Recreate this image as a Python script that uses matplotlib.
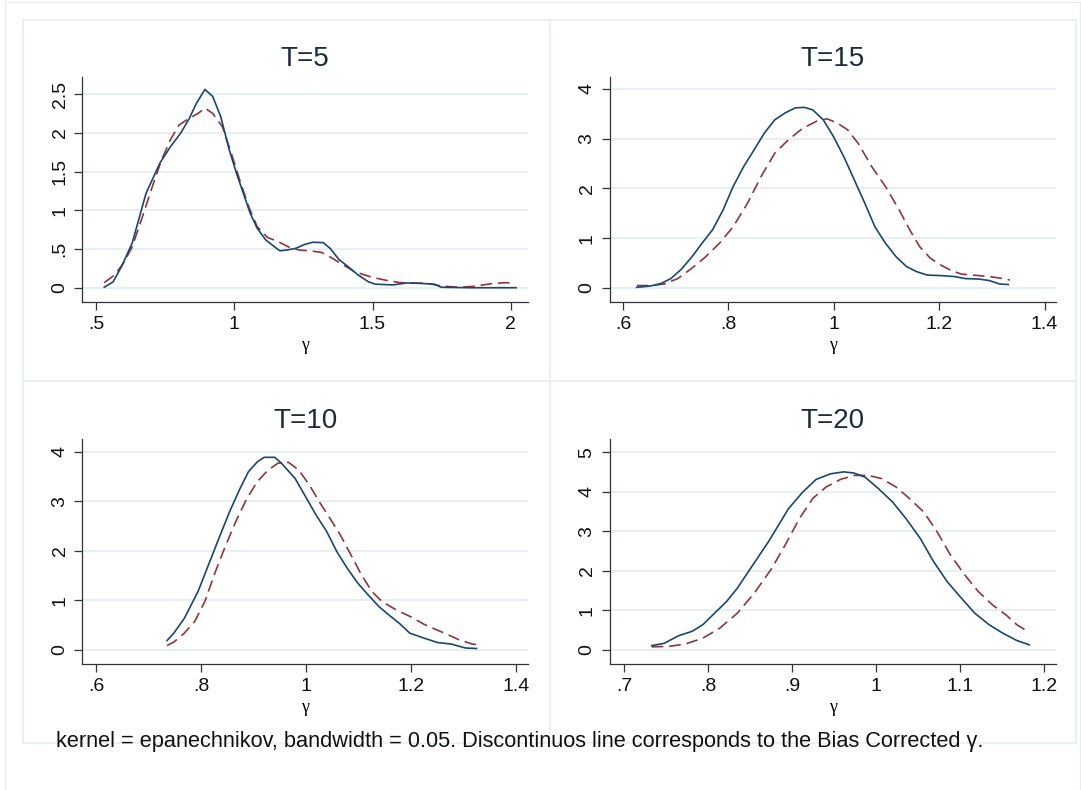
# Kernel densities of gamma estimates, original vs bias corrected, by T

import matplotlib.pyplot as plt
from matplotlib.lines import Line2D

plt.rcParams['font.family'] = ['Liberation Sans', 'DejaVu Sans']

NAVY = '#1a476f'
MAROON = '#90353b'
GRID = '#e6eef1'
FRAME = '#e8eef0'

# T=5
t5_x = [0.53, 0.562, 0.593, 0.631, 0.681, 0.731, 0.769, 0.807, 0.838, 0.863, 0.894, 0.922,
        0.951, 0.982, 1.008, 1.033, 1.058, 1.083, 1.114, 1.146, 1.165, 1.19, 1.221, 1.253,
        1.284, 1.322, 1.347, 1.378, 1.41, 1.447, 1.485, 1.51, 1.573, 1.623, 1.673, 1.723,
        1.749, 1.85, 2.019]
t5_y = [0.01, 0.08, 0.28, 0.58, 1.22, 1.61, 1.82, 2.0, 2.19, 2.38, 2.56, 2.47,
        2.21, 1.78, 1.48, 1.22, 0.96, 0.77, 0.62, 0.53, 0.48, 0.49, 0.51, 0.56,
        0.59, 0.585, 0.51, 0.37, 0.28, 0.17, 0.08, 0.05, 0.04, 0.065, 0.06, 0.05,
        0.01, 0.004, 0.004]
t5_bc_x = [0.53, 0.568, 0.599, 0.631, 0.668, 0.706, 0.737, 0.769, 0.8, 0.838, 0.869, 0.894,
           0.922, 0.957, 0.989, 1.02, 1.052, 1.083, 1.121, 1.158, 1.196, 1.234, 1.272, 1.315,
           1.347, 1.384, 1.435, 1.497, 1.548, 1.598, 1.698, 1.749, 1.81, 1.862, 1.937, 1.987,
           2.006]
t5_bc_y = [0.07, 0.17, 0.32, 0.53, 0.92, 1.33, 1.65, 1.91, 2.1, 2.19, 2.25, 2.32,
           2.25, 2.08, 1.74, 1.39, 1.05, 0.79, 0.65, 0.6, 0.53, 0.49, 0.48, 0.46,
           0.40, 0.32, 0.21, 0.14, 0.10, 0.07, 0.06, 0.026, 0.01, 0.02, 0.06, 0.07,
           0.05]

# T=15
t15_x = [0.626, 0.652, 0.672, 0.691, 0.711, 0.731, 0.75, 0.77, 0.79, 0.809, 0.829, 0.849,
         0.868, 0.888, 0.908, 0.927, 0.944, 0.96, 0.98, 0.999, 1.019, 1.039, 1.059, 1.078,
         1.098, 1.118, 1.138, 1.157, 1.177, 1.203, 1.229, 1.249, 1.275, 1.295, 1.315, 1.331]
t15_y = [0.013, 0.04, 0.09, 0.19, 0.38, 0.63, 0.9, 1.17, 1.57, 2.04, 2.44, 2.78,
         3.11, 3.38, 3.52, 3.62, 3.63, 3.58, 3.38, 3.05, 2.64, 2.17, 1.7, 1.23,
         0.9, 0.63, 0.43, 0.33, 0.26, 0.25, 0.23, 0.19, 0.18, 0.15, 0.08, 0.07]
t15_bc_x = [0.626, 0.652, 0.678, 0.704, 0.731, 0.757, 0.783, 0.809, 0.836, 0.862, 0.888, 0.914,
            0.941, 0.967, 0.987, 1.006, 1.026, 1.046, 1.072, 1.098, 1.124, 1.144, 1.163, 1.183,
            1.203, 1.223, 1.242, 1.269, 1.295, 1.321, 1.334]
t15_bc_y = [0.05, 0.05, 0.08, 0.19, 0.4, 0.63, 0.9, 1.23, 1.7, 2.24, 2.71, 2.98,
            3.21, 3.35, 3.40, 3.32, 3.18, 2.91, 2.44, 2.04, 1.57, 1.17, 0.83, 0.6,
            0.46, 0.35, 0.28, 0.255, 0.23, 0.19, 0.16]

# T=10
t10_x = [0.735, 0.748, 0.768, 0.781, 0.794, 0.814, 0.834, 0.854, 0.874, 0.89, 0.907, 0.92,
         0.94, 0.953, 0.979, 0.999, 1.019, 1.039, 1.058, 1.078, 1.098, 1.118, 1.138, 1.158,
         1.177, 1.197, 1.224, 1.25, 1.276, 1.303, 1.324]
t10_y = [0.19, 0.34, 0.64, 0.91, 1.18, 1.72, 2.26, 2.79, 3.26, 3.6, 3.8, 3.89,
         3.89, 3.77, 3.46, 3.09, 2.72, 2.39, 1.99, 1.65, 1.35, 1.11, 0.88, 0.70,
         0.54, 0.34, 0.24, 0.15, 0.12, 0.04, 0.03]
t10_bc_x = [0.735, 0.748, 0.768, 0.788, 0.807, 0.827, 0.847, 0.867, 0.887, 0.907, 0.927, 0.946,
            0.966, 0.986, 1.006, 1.025, 1.045, 1.065, 1.085, 1.105, 1.125, 1.144, 1.171, 1.197,
            1.224, 1.243, 1.263, 1.29, 1.316, 1.324]
t10_bc_y = [0.09, 0.16, 0.34, 0.58, 0.98, 1.58, 2.12, 2.62, 3.06, 3.40, 3.63, 3.77,
            3.79, 3.63, 3.33, 2.99, 2.66, 2.32, 1.92, 1.52, 1.18, 0.98, 0.81, 0.68,
            0.52, 0.43, 0.34, 0.21, 0.12, 0.11]

# T=20
t20_x = [0.733, 0.748, 0.765, 0.781, 0.794, 0.806, 0.822, 0.835, 0.847, 0.859, 0.872, 0.884,
         0.896, 0.913, 0.929, 0.946, 0.962, 0.974, 0.987, 1.003, 1.02, 1.036, 1.053, 1.069,
         1.085, 1.102, 1.118, 1.135, 1.151, 1.168, 1.183]
t20_y = [0.11, 0.17, 0.36, 0.47, 0.64, 0.89, 1.22, 1.56, 1.94, 2.32, 2.73, 3.15,
         3.57, 3.99, 4.31, 4.45, 4.5, 4.47, 4.37, 4.08, 3.74, 3.32, 2.82, 2.23,
         1.73, 1.31, 0.93, 0.64, 0.43, 0.24, 0.13]
t20_bc_x = [0.733, 0.753, 0.773, 0.794, 0.814, 0.835, 0.855, 0.876, 0.892, 0.909, 0.925, 0.941,
            0.958, 0.974, 0.991, 1.007, 1.024, 1.04, 1.057, 1.073, 1.089, 1.106, 1.122, 1.139,
            1.155, 1.168, 1.178]
t20_bc_y = [0.08, 0.09, 0.15, 0.30, 0.55, 0.93, 1.43, 2.06, 2.65, 3.32, 3.83, 4.12,
            4.31, 4.41, 4.41, 4.33, 4.12, 3.83, 3.49, 2.99, 2.4, 1.9, 1.48, 1.14,
            0.89, 0.64, 0.51]

panels = [
    ('T=5', t5_x, t5_y, t5_bc_x, t5_bc_y, [0.5, 1, 1.5, 2], ['.5', '1', '1.5', '2'],
     [0, 0.5, 1, 1.5, 2, 2.5], ['0', '.5', '1', '1.5', '2', '2.5'], (0.451, 2.062), (-0.18, 2.72)),
    ('T=15', t15_x, t15_y, t15_bc_x, t15_bc_y, [0.6, 0.8, 1, 1.2, 1.4], ['.6', '.8', '1', '1.2', '1.4'],
     [0, 1, 2, 3, 4], ['0', '1', '2', '3', '4'], (0.5744, 1.4216), (-0.281, 4.24)),
    ('T=10', t10_x, t10_y, t10_bc_x, t10_bc_y, [0.6, 0.8, 1, 1.2, 1.4], ['.6', '.8', '1', '1.2', '1.4'],
     [0, 1, 2, 3, 4], ['0', '1', '2', '3', '4'], (0.574, 1.422), (-0.283, 4.26)),
    ('T=20', t20_x, t20_y, t20_bc_x, t20_bc_y, [0.7, 0.8, 0.9, 1, 1.1, 1.2],
     ['.7', '.8', '.9', '1', '1.1', '1.2'],
     [0, 1, 2, 3, 4, 5], ['0', '1', '2', '3', '4', '5'], (0.6827, 1.2148), (-0.354, 5.33)),
]

W, H = 1081, 790
fig = plt.figure(figsize=(W / 100, H / 100), dpi=100)
fig.patch.set_facecolor('white')

# outer frame and panel boxes (pixel coords)
def hline(y, x0, x1, color=FRAME, lw=1.2):
    fig.add_artist(Line2D([x0 / W, x1 / W], [1 - y / H, 1 - y / H], color=color, lw=lw))

def vline(x, y0, y1, color=FRAME, lw=1.2):
    fig.add_artist(Line2D([x / W, x / W], [1 - y0 / H, 1 - y1 / H], color=color, lw=lw))

hline(2, 5, 1080, lw=1.0)
vline(5, 2, 790, lw=1.0)
vline(1080, 2, 790, lw=1.0)
hline(20, 23, 1076)
hline(381, 23, 1076)
hline(743, 23, 1076)
vline(23, 20, 743)
vline(550, 20, 743)
vline(1076, 20, 743)

# axes rectangles in pixels: left, right, top, bottom
rects = [(82.4, 528, 77, 302), (609.5, 1056, 77, 302),
         (82.4, 528, 439, 664), (609.5, 1056, 439, 664)]

for (title, x, y, bx, by, xt, xtl, yt, ytl, xl, yl), (l, r, t, b) in zip(panels, rects):
    ax = fig.add_axes([l / W, 1 - b / H, (r - l) / W, (b - t) / H])
    ax.set_facecolor('white')
    for yy in yt:
        ax.axhline(yy, color=GRID, lw=1.3, zorder=0)
    ax.plot(x, y, color=NAVY, lw=1.2, zorder=3)
    ax.plot(bx, by, color=MAROON, lw=1.2, dashes=(7, 3.5), zorder=2)
    ax.set_xlim(*xl)
    ax.set_ylim(*yl)
    ax.set_xticks(xt)
    ax.set_xticklabels(xtl)
    ax.set_yticks(yt)
    ax.set_yticklabels(ytl, rotation=90, va='center')
    ax.spines['top'].set_visible(False)
    ax.spines['right'].set_visible(False)
    for s in ('left', 'bottom'):
        ax.spines[s].set_color('#333333')
        ax.spines[s].set_linewidth(0.9)
    ax.tick_params(direction='out', length=6, width=0.9, color='#333333',
                   labelsize=14, labelcolor='#111111', pad=4)
    ax.set_title(title, fontsize=20, color='#1c2b3d', pad=8)
    ax.set_xlabel('γ', fontsize=13, family=['Liberation Serif', 'DejaVu Serif'], labelpad=3)

fig.text(55.6 / W, 1 - 741 / H,
         'kernel = epanechnikov, bandwidth = 0.05. Discontinuos line corresponds to the Bias Corrected γ.',
         fontsize=15.7, va='center', ha='left', color='#111111')

fig.savefig('out.png', dpi=100)
